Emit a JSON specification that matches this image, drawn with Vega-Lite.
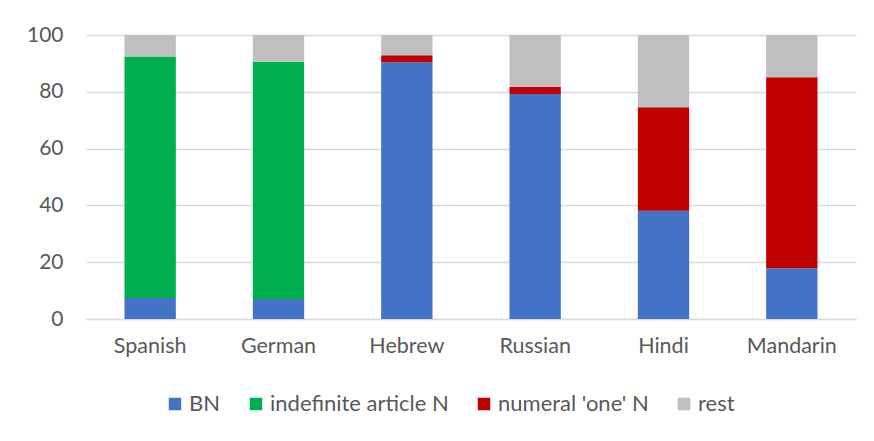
{
  "$schema": "https://vega.github.io/schema/vega-lite/v6.json",
  "width": 770,
  "height": 284,
  "autosize": {"type": "none"},
  "padding": {"left": 86, "top": 35, "right": 18, "bottom": 122},
  "background": "white",
  "data": {
    "values": [
      {"language": "Spanish", "category": "BN", "value": 7.4},
      {"language": "Spanish", "category": "indefinite article N", "value": 85.0},
      {"language": "Spanish", "category": "numeral 'one' N", "value": 0},
      {"language": "Spanish", "category": "rest", "value": 7.6},
      {"language": "German", "category": "BN", "value": 7.0},
      {"language": "German", "category": "indefinite article N", "value": 83.6},
      {"language": "German", "category": "numeral 'one' N", "value": 0},
      {"language": "German", "category": "rest", "value": 9.4},
      {"language": "Hebrew", "category": "BN", "value": 90.4},
      {"language": "Hebrew", "category": "indefinite article N", "value": 0},
      {"language": "Hebrew", "category": "numeral 'one' N", "value": 2.5},
      {"language": "Hebrew", "category": "rest", "value": 7.1},
      {"language": "Russian", "category": "BN", "value": 79.2},
      {"language": "Russian", "category": "indefinite article N", "value": 0},
      {"language": "Russian", "category": "numeral 'one' N", "value": 2.6},
      {"language": "Russian", "category": "rest", "value": 18.2},
      {"language": "Hindi", "category": "BN", "value": 38.1},
      {"language": "Hindi", "category": "indefinite article N", "value": 0},
      {"language": "Hindi", "category": "numeral 'one' N", "value": 36.5},
      {"language": "Hindi", "category": "rest", "value": 25.4},
      {"language": "Mandarin", "category": "BN", "value": 17.9},
      {"language": "Mandarin", "category": "indefinite article N", "value": 0},
      {"language": "Mandarin", "category": "numeral 'one' N", "value": 67.2},
      {"language": "Mandarin", "category": "rest", "value": 14.9}
    ]
  },
  "transform": [
    {"calculate": "indexof(['BN','indefinite article N','numeral \\'one\\' N','rest'], datum.category)", "as": "rank"}
  ],
  "mark": {"type": "bar"},
  "encoding": {
    "x": {
      "field": "language",
      "type": "nominal",
      "sort": ["Spanish", "German", "Hebrew", "Russian", "Hindi", "Mandarin"],
      "scale": {"paddingInner": 0.6, "paddingOuter": 0.3},
      "axis": {
        "title": null,
        "labelAngle": 0,
        "ticks": false,
        "domainColor": "#d9d9d9",
        "domainWidth": 1.5,
        "labelPadding": 16,
        "labelFontSize": 21.5,
        "labelColor": "#595959",
        "labelFont": "Lato"
      }
    },
    "y": {
      "field": "value",
      "type": "quantitative",
      "stack": "zero",
      "scale": {"domain": [0, 100], "nice": false},
      "axis": {
        "title": null,
        "values": [0, 20, 40, 60, 80, 100],
        "ticks": false,
        "domain": false,
        "gridColor": "#d9d9d9",
        "gridWidth": 1.5,
        "labelPadding": 23,
        "labelFontSize": 21,
        "labelColor": "#595959",
        "labelFont": "Lato"
      }
    },
    "color": {
      "field": "category",
      "type": "nominal",
      "sort": ["BN", "indefinite article N", "numeral 'one' N", "rest"],
      "scale": {
        "domain": ["BN", "indefinite article N", "numeral 'one' N", "rest"],
        "range": ["#4472C4", "#00B050", "#C00000", "#BFBFBF"]
      },
      "legend": {
        "title": null,
        "orient": "none",
        "direction": "horizontal",
        "legendX": 78,
        "legendY": 358,
        "symbolType": "square",
        "symbolSize": 156,
        "symbolStrokeWidth": 0,
        "labelFontSize": 22,
        "labelLimit": 400,
        "labelColor": "#595959",
        "labelFont": "Lato",
        "columnPadding": 24,
        "labelOffset": 3
      }
    },
    "order": {"field": "rank", "type": "quantitative", "sort": "ascending"}
  },
  "config": {
    "view": {"stroke": null}
  }
}
